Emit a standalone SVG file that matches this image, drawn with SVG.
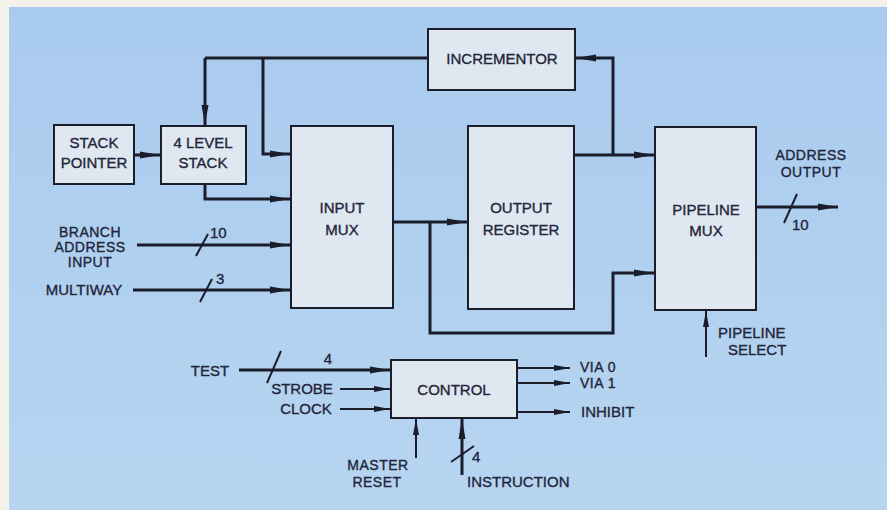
<svg xmlns="http://www.w3.org/2000/svg" width="887" height="510" viewBox="0 0 887 510">
<defs>
<linearGradient id="bg" x1="0" y1="0" x2="0" y2="1">
<stop offset="0" stop-color="#a9cbee"/>
<stop offset="1" stop-color="#b7d5f1"/>
</linearGradient>
<marker id="ah" viewBox="0 0 20 8" refX="20" refY="4" markerWidth="20" markerHeight="8" markerUnits="userSpaceOnUse" orient="auto">
<path d="M0,0.5 L20,4 L0,7.5 Z" fill="#1b1d2b"/>
</marker>
<marker id="ahs" viewBox="0 0 16 6" refX="16" refY="3" markerWidth="16" markerHeight="6" markerUnits="userSpaceOnUse" orient="auto">
<path d="M0,0 L16,3 L0,6 Z" fill="#1b1d2b"/>
</marker>
</defs>
<style>
.box{fill:#dfe7f0;stroke:#1b1d2b;stroke-width:2}
.t{font-family:"Liberation Sans",Arial,sans-serif;font-size:15px;fill:#23253a;stroke:#23253a;stroke-width:0.35;text-anchor:middle}
.s{font-size:14px;letter-spacing:0.5px}
.l{text-anchor:start}
.w{fill:none;stroke:#1b1d2b;stroke-width:3}
.wa{fill:none;stroke:#1b1d2b;stroke-width:3;marker-end:url(#ah)}
.n{fill:none;stroke:#1b1d2b;stroke-width:2}
.na{fill:none;stroke:#1b1d2b;stroke-width:2;marker-end:url(#ahs)}
</style>
<rect x="0" y="0" width="887" height="510" fill="#f4f1ea"/>
<rect x="9" y="7" width="878" height="503" fill="url(#bg)"/>

<g id="connectors">
<path class="w" d="M428,58 H205"/>
<path class="wa" d="M205,58 V125"/>
<path class="wa" d="M263,58 V154 H290"/>
<path class="wa" d="M613,155 V58 H576"/>
<path class="wa" d="M574,155 H654"/>
<path class="wa" d="M134,155 H160"/>
<path class="wa" d="M205,184 V199 H290"/>
<path class="wa" d="M137,245 H290"/>
<path class="n" d="M196,256 L208,234"/>
<path class="wa" d="M133,290 H290"/>
<path class="n" d="M200,302 L212,279"/>
<path class="wa" d="M393,222 H467"/>
<path class="wa" d="M430,222 V333 H613 V273 H654"/>
<path class="wa" d="M756,207 H838"/>
<path class="n" d="M784,223 L797,194"/>
<path class="na" d="M706,357 V311"/>
<path class="wa" d="M239,370 H390"/>
<path class="n" d="M267,383 L281,351"/>
<path class="na" d="M340,389 H390"/>
<path class="na" d="M340,409 H390"/>
<path class="na" d="M517,368 H570"/>
<path class="na" d="M517,383 H570"/>
<path class="na" d="M517,412 H570"/>
<path class="na" d="M416,458 V419"/>
<path class="wa" d="M462,475 V419"/>
<path class="n" d="M451,462 L474,446"/>
</g>

<g id="stack-pointer">
<rect class="box" x="54" y="125" width="80" height="59"/>
<text class="t" x="94" y="148">STACK</text>
<text class="t" x="94" y="168">POINTER</text>
</g>
<g id="level-stack">
<rect class="box" x="161" y="126" width="85" height="58"/>
<text class="t" x="203" y="148">4 LEVEL</text>
<text class="t" x="203" y="168">STACK</text>
</g>
<g id="incrementor">
<rect class="box" x="428" y="29" width="147" height="61"/>
<text class="t" x="502" y="64">INCREMENTOR</text>
</g>
<g id="input-mux">
<rect class="box" x="291" y="126" width="102" height="182"/>
<text class="t" x="342" y="213">INPUT</text>
<text class="t" x="342" y="235">MUX</text>
</g>
<g id="output-register">
<rect class="box" x="468" y="126" width="106" height="183"/>
<text class="t" x="521" y="213">OUTPUT</text>
<text class="t" x="521" y="235">REGISTER</text>
</g>
<g id="pipeline-mux">
<rect class="box" x="655" y="127" width="101" height="183"/>
<text class="t" x="706" y="215">PIPELINE</text>
<text class="t" x="706" y="236">MUX</text>
</g>
<g id="control">
<rect class="box" x="391" y="360" width="126" height="58"/>
<text class="t" x="454" y="395">CONTROL</text>
</g>

<g id="labels">
<text class="t s" x="90" y="237">BRANCH</text>
<text class="t s" x="90" y="252">ADDRESS</text>
<text class="t s" x="90" y="267">INPUT</text>
<text class="t l" x="210" y="238">10</text>
<text class="t" x="84" y="295">MULTIWAY</text>
<text class="t l" x="216" y="284">3</text>
<text class="t s" x="811" y="160">ADDRESS</text>
<text class="t s" x="811" y="177">OUTPUT</text>
<text class="t l" x="792" y="230">10</text>
<text class="t l" x="718" y="338">PIPELINE</text>
<text class="t l" x="728" y="355">SELECT</text>
<text class="t" x="210" y="376">TEST</text>
<text class="t" x="328" y="364">4</text>
<text class="t" x="302" y="394">STROBE</text>
<text class="t" x="306" y="414">CLOCK</text>
<text class="t s l" x="580" y="372">VIA 0</text>
<text class="t s l" x="580" y="388">VIA 1</text>
<text class="t l" x="581" y="417">INHIBIT</text>
<text class="t s" x="378" y="470">MASTER</text>
<text class="t s" x="377" y="487">RESET</text>
<text class="t l" x="472" y="462">4</text>
<text class="t l" x="467" y="487">INSTRUCTION</text>
</g>
</svg>
